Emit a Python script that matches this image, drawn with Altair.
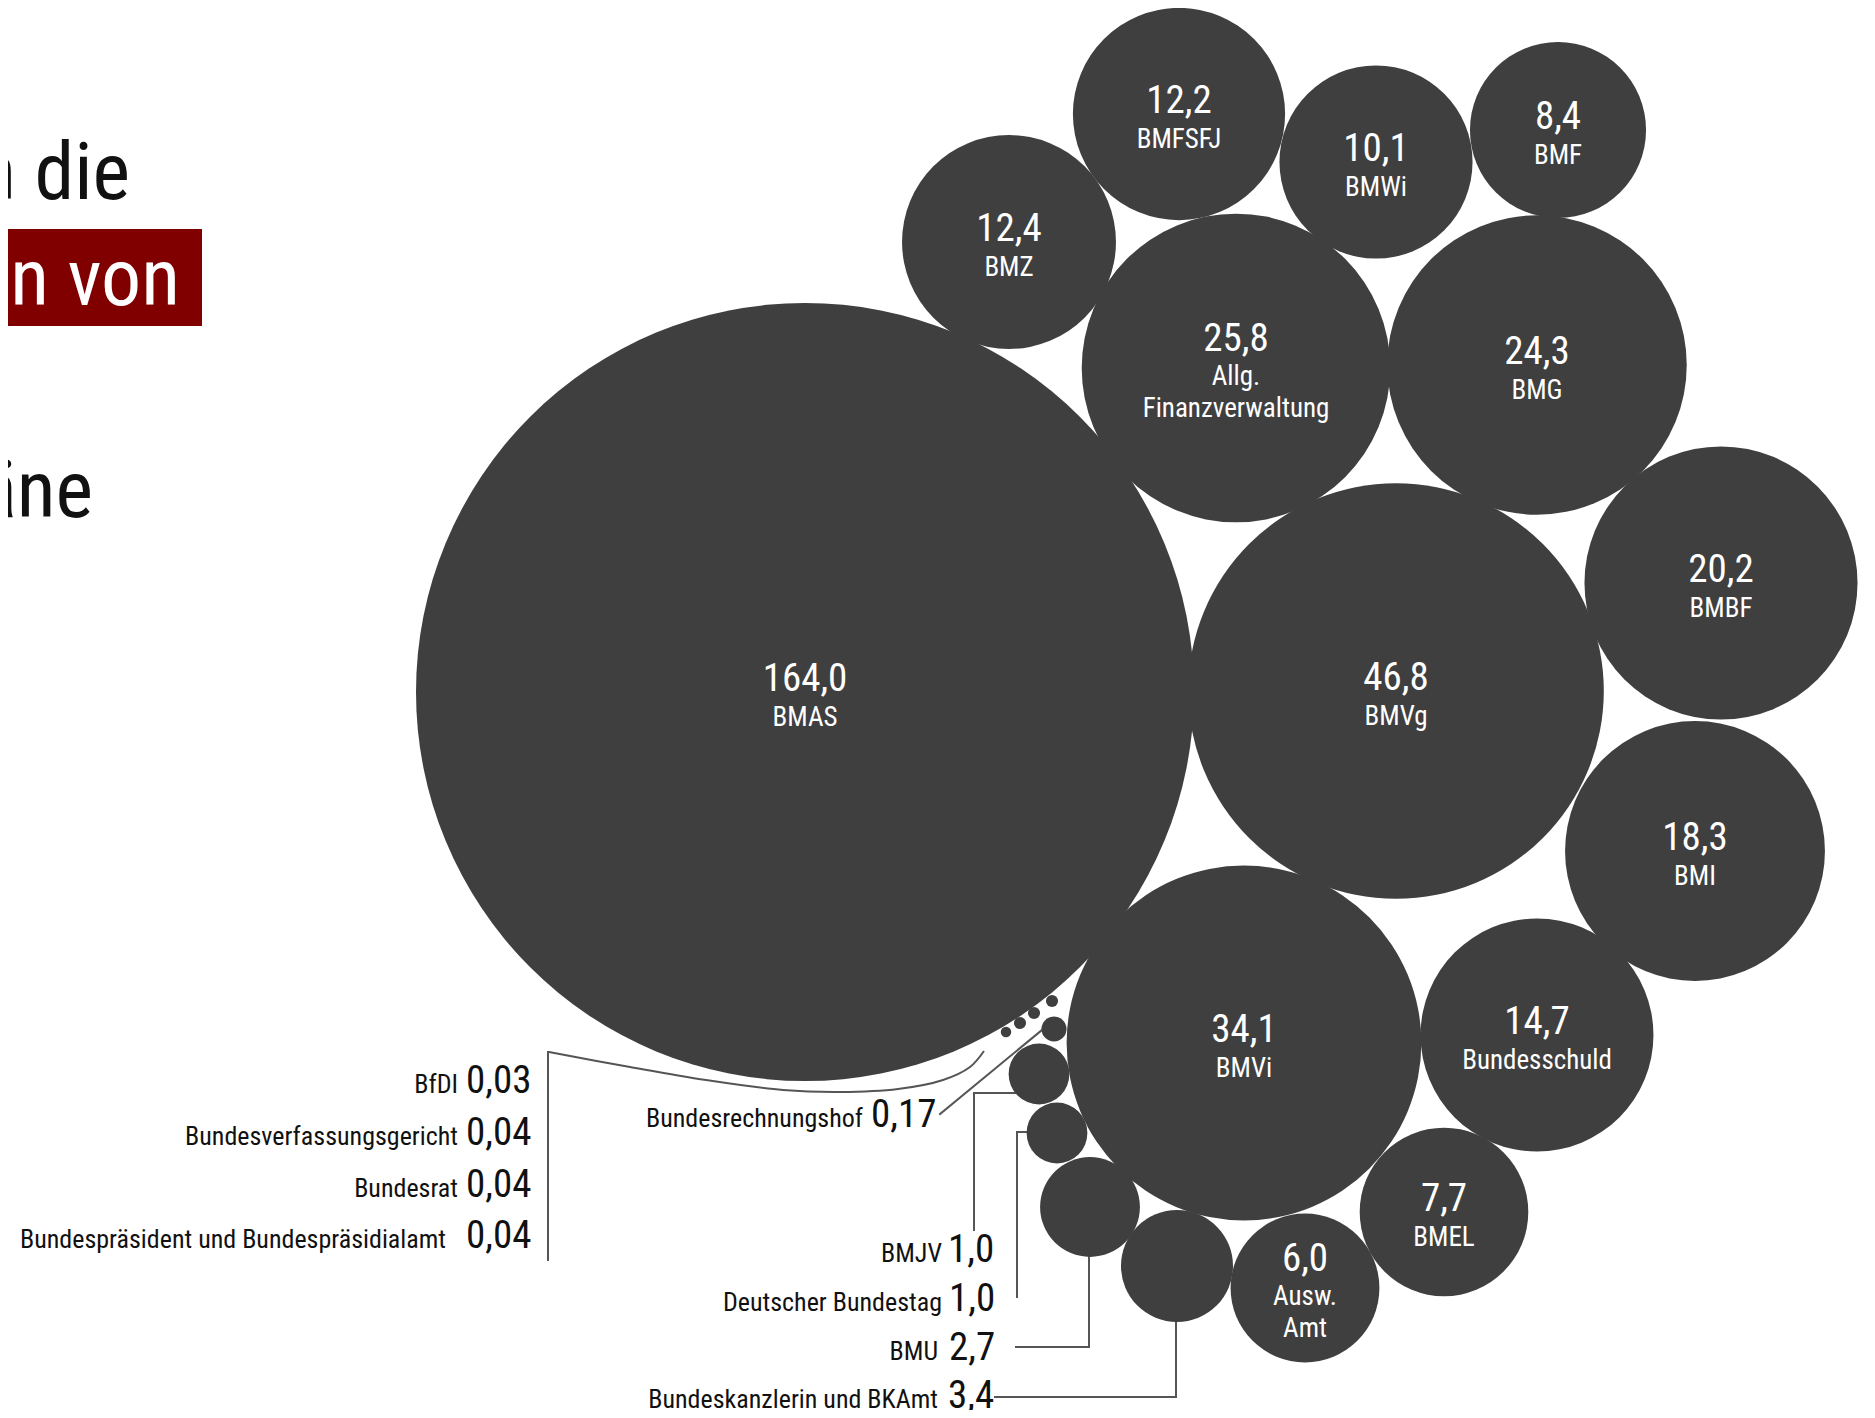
import math
import altair as alt
import pandas as pd

# ---------------- data (Ausgaben in Mrd. Euro) ----------------
names = ["BMAS", "BMVg", "BMVi", "Allg.\nFinanzverwaltung", "BMG", "BMBF", "BMI",
         "Bundesschuld", "BMZ", "BMFSFJ", "BMWi", "BMF", "BMEL", "Ausw.\nAmt",
         "Bundeskanzlerin und BKAmt", "BMU", "Deutscher Bundestag", "BMJV",
         "Bundesrechnungshof", "Bundespräsident und Bundespräsidialamt", "Bundesrat",
         "Bundesverfassungsgericht", "BfDI"]
values = [164.0, 46.8, 34.1, 25.8, 24.3, 20.2, 18.3, 14.7, 12.4, 12.2, 10.1, 8.4, 7.7, 6.0,
          3.4, 2.7, 1.0, 1.0, 0.17, 0.04, 0.04, 0.04, 0.03]
value_labels = ["164,0", "46,8", "34,1", "25,8", "24,3", "20,2", "18,3", "14,7", "12,4", "12,2",
                "10,1", "8,4", "7,7", "6,0", "3,4", "2,7", "1,0", "1,0", "0,17", "0,04", "0,04",
                "0,04", "0,03"]

# packed-bubble layout (centre of each bubble, in layout units)
pack_x = [805, 1396, 1244, 1236, 1537, 1721, 1695, 1537, 1009, 1179, 1376, 1558, 1444, 1305,
          1177, 1090, 1057, 1039, 1054, 1052, 1034, 1020, 1006]
pack_y = [692, 691, 1043, 368, 365, 583, 851, 1035, 242, 114, 162, 130, 1212, 1288,
          1266, 1207, 1133, 1074, 1029, 1001, 1013, 1023, 1032]

# external labels for the small budgets
ext_names = ["Bundesrechnungshof", "BfDI", "Bundesverfassungsgericht", "Bundesrat",
             "Bundespräsident und Bundespräsidialamt", "BMJV", "Deutscher Bundestag", "BMU",
             "Bundeskanzlerin und BKAmt"]
ext_value_x = [871, 466, 466, 466, 466, 948, 949, 949, 948]
ext_name_x = [863, 458, 458, 458, 446, 942, 942, 938, 938]
ext_y = [1127, 1093, 1145, 1197, 1248, 1262, 1311, 1360, 1408]

# leader lines (layout units)
leader_paths = {
    "brh": [(940, 1114), (1042, 1030)],
    "bracket": [(548, 1052), (548, 1260)],
    "bmjv": [(1015, 1093), (974, 1093), (974, 1230)],
    "bt": [(1027, 1132), (1017, 1132), (1017, 1297)],
    "bmu": [(1089, 1256), (1089, 1347), (1016, 1347)],
    "bka": [(1176, 1321), (1176, 1397), (995, 1397)],
}
curve_path = [(984, 1051), (970, 1067), (943, 1080), (898, 1089), (840, 1092),
              (783, 1090), (706, 1080), (630, 1067), (549, 1052)]

# headline fragments visible at the left edge
title_lines = ["n die", "en von", "äne"]
title_x = [130, 180, 93]
title_y = [199, 305, 517]
title_colors = ["#111111", "#ffffff", "#111111"]

# ---------------- chart ----------------
W, H = 1855, 1402
FONT = "'Roboto Condensed', 'Liberation Sans Narrow', 'DejaVu Sans Condensed', Roboto, sans-serif"
BUBBLE = "#3f3f3f"
LINE = "#555555"
R_MAX = 389  # radius of the largest bubble in pixels

xs = alt.Scale(domain=[8, 8 + W], nice=False, zero=False)
ys = alt.Scale(domain=[8, 8 + H], nice=False, zero=False, reverse=True)


def X(f):
    return alt.X(f, type="quantitative", scale=xs, axis=None)


def Y(f):
    return alt.Y(f, type="quantitative", scale=ys, axis=None)


df = pd.DataFrame({"name": names, "value": values, "vlabel": value_labels,
                   "px": pack_x, "py": pack_y})
df["inner"] = df["value"] >= 5
df["multi"] = df["name"].str.contains("\n")

# Vega circle symbol: radius = sqrt(size) / 2  -> size = (2r)^2, proportional to value
circles = alt.Chart(df).mark_circle(opacity=1, color=BUBBLE).encode(
    x=X("px"), y=Y("py"),
    size=alt.Size("value:Q", legend=None,
                  scale=alt.Scale(type="linear", domain=[0, 164], zero=True,
                                  range=[0, (2 * R_MAX) ** 2])),
)


def inner_text(field, cond, dy, size):
    return alt.Chart(df).transform_filter(cond).mark_text(
        font=FONT, fontSize=size, color="white", align="center", baseline="alphabetic",
        dy=dy, lineBreak="\n", lineHeight=32,
    ).encode(x=X("px"), y=Y("py"), text=f"{field}:N")


val1 = inner_text("vlabel", "datum.inner && !datum.multi", -1, 39)
val2 = inner_text("vlabel", "datum.inner && datum.multi", -17, 39)
nam1 = inner_text("name", "datum.inner && !datum.multi", 34, 27)
nam2 = inner_text("name", "datum.inner && datum.multi", 17, 27)

ext = pd.DataFrame({"name": ext_names, "vx": ext_value_x, "nx": ext_name_x, "ly": ext_y})
ext = ext.merge(df[["name", "vlabel"]], on="name", how="left")

ext_val = alt.Chart(ext).mark_text(font=FONT, fontSize=39, color="#111111", align="left",
                                   baseline="alphabetic").encode(
    x=X("vx"), y=Y("ly"), text="vlabel:N")
ext_nam = alt.Chart(ext).mark_text(font=FONT, fontSize=26, color="#111111", align="right",
                                   baseline="alphabetic").encode(
    x=X("nx"), y=Y("ly"), text="name:N")

rows = []
for pid, pts in leader_paths.items():
    for i, (a, b) in enumerate(pts):
        rows.append({"path": pid, "o": i, "lx": a, "ly": b})
lead_df = pd.DataFrame(rows)
leaders = alt.Chart(lead_df).mark_line(color=LINE, strokeWidth=2, strokeCap="square",
                                       strokeJoin="miter").encode(
    x=X("lx"), y=Y("ly"), detail="path:N", order="o:Q")

curve_df = pd.DataFrame({"o": list(range(len(curve_path))),
                         "lx": [p[0] for p in curve_path],
                         "ly": [p[1] for p in curve_path]})
curve = alt.Chart(curve_df).mark_line(color=LINE, strokeWidth=2,
                                      interpolate="catmull-rom").encode(
    x=X("lx"), y=Y("ly"), order="o:Q")

box_df = pd.DataFrame({"x1": [-10], "x2": [202], "y1": [229], "y2": [326]})
box = alt.Chart(box_df).mark_rect(color="#800000").encode(
    x=X("x1"), x2="x2", y=Y("y1"), y2="y2")

title_df = pd.DataFrame({"t": title_lines, "tx": title_x, "ty": title_y, "c": title_colors})
title = alt.Chart(title_df).mark_text(font=FONT, fontSize=80, align="right",
                                      baseline="alphabetic").encode(
    x=X("tx"), y=Y("ty"), text="t:N", color=alt.Color("c:N", scale=None))

chart = alt.layer(box, title, leaders, curve, circles, val1, val2, nam1, nam2,
                  ext_val, ext_nam).properties(
    width=W, height=H, padding=0, autosize=alt.AutoSizeParams(type="none"),
    background="white",
).configure_view(stroke=None)

chart.save("out.html", embed_options={"renderer": "svg", "actions": False})
